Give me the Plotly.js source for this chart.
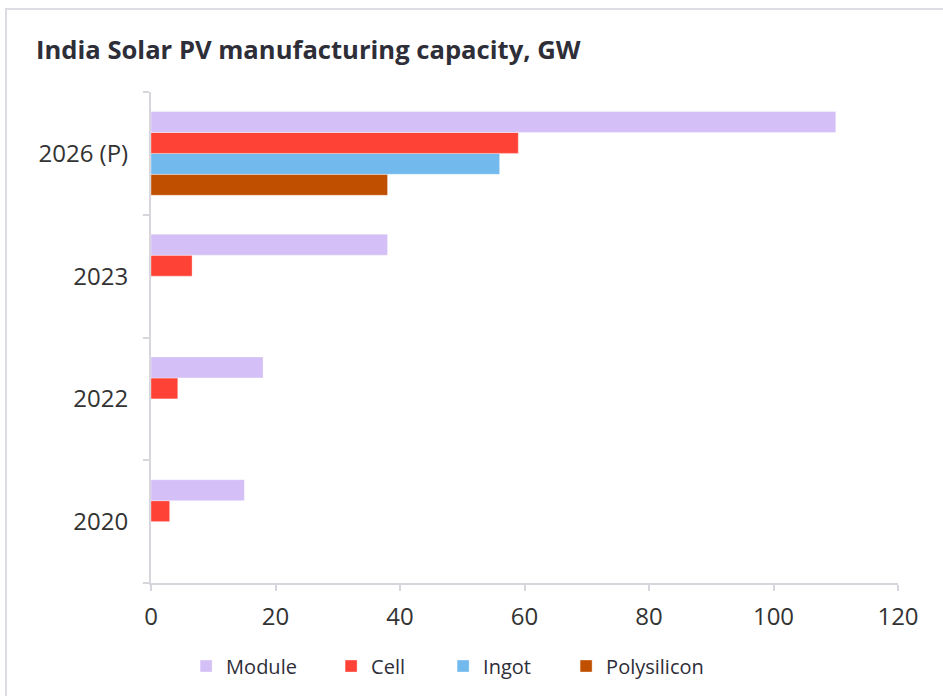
<!DOCTYPE html>
<html>
<head>
<meta charset="utf-8">
<script src="https://cdn.plot.ly/plotly-3.0.1.min.js"></script>
<style>
  html, body { margin: 0; padding: 0; background: #ffffff; }
  #chart { width: 943px; height: 696px; }
  #frame { position: absolute; left: 5px; top: 8px; width: 960px; height: 720px;
           border-left: 2px solid #dcdce2; border-top: 2px solid #dcdce2; pointer-events: none; }
</style>
</head>
<body>
<div id="chart"></div>
<div id="frame"></div>
<script>
// Data (categories listed bottom to top)
var years = ["2020", "2022", "2023", "2026 (P)"];
var moduleGW = [15, 18, 38, 110];
var cellGW = [3, 4.3, 6.6, 59];
var ingotGW = [null, null, null, 56];
var polysiliconGW = [null, null, null, 38];
var xTicks = [0, 20, 40, 60, 80, 100, 120];

var fontFam = '"Open Sans", "Noto Sans", sans-serif';
var textColor = '#2e2e38';

function barTrace(name, values, color, lw) {
  return {
    type: 'bar',
    orientation: 'h',
    name: name,
    y: years,
    x: values,
    legendwidth: lw,
    marker: { color: color, line: { color: 'rgba(255,255,255,0.7)', width: 0.5 } },
    hoverinfo: 'x+name'
  };
}

// Added bottom-to-top within each group; legend reversed
var data = [
  barTrace('Polysilicon', polysiliconGW, '#c05000', 110),
  barTrace('Ingot', ingotGW, '#72b9ee', 78),
  barTrace('Cell', cellGW, '#ff4236', 67),
  barTrace('Module', moduleGW, '#d4bff6', 100)
];

var layout = {
  width: 943,
  height: 696,
  margin: { l: 151, r: 45, t: 92, b: 112 },
  paper_bgcolor: '#ffffff',
  plot_bgcolor: '#ffffff',
  barmode: 'group',
  bargap: 0.317,
  bargroupgap: 0,
  font: { family: fontFam, color: textColor },
  title: {
    text: '<b>India Solar PV manufacturing capacity, GW</b>',
    font: { family: fontFam, size: 25.6, color: textColor },
    xref: 'container', yref: 'container',
    x: 36 / 943, xanchor: 'left',
    y: 1 - 50 / 696, yanchor: 'middle'
  },
  xaxis: {
    range: [0, 120],
    tickvals: xTicks,
    ticktext: xTicks.map(String),
    showgrid: false,
    zeroline: false,
    showline: true,
    linecolor: '#d6d6dc',
    linewidth: 2,
    ticks: 'outside',
    ticklen: 6,
    tickwidth: 2,
    tickcolor: '#d6d6dc',
    ticklabelstandoff: 5,
    tickfont: { family: fontFam, size: 24, color: '#333333' },
    fixedrange: true
  },
  yaxis: {
    type: 'category',
    categoryorder: 'array',
    categoryarray: years,
    range: [-0.5, 3.5],
    showgrid: false,
    zeroline: false,
    showline: true,
    linecolor: '#d6d6dc',
    linewidth: 2,
    ticks: 'outside',
    tickson: 'boundaries',
    ticklen: 6,
    tickwidth: 2,
    tickcolor: '#d6d6dc',
    ticklabelstandoff: 16,
    tickfont: { family: fontFam, size: 24, color: '#333333' },
    fixedrange: true
  },
  showlegend: true,
  legend: {
    orientation: 'h',
    traceorder: 'reversed',
    x: 0.047, xanchor: 'left',
    y: -82 / 492, yanchor: 'middle',
    font: { family: fontFam, size: 20, color: textColor },
    itemwidth: 30,
    bgcolor: 'rgba(0,0,0,0)'
  }
};

Plotly.newPlot('chart', data, layout, { displayModeBar: false, staticPlot: true });
</script>
</body>
</html>
